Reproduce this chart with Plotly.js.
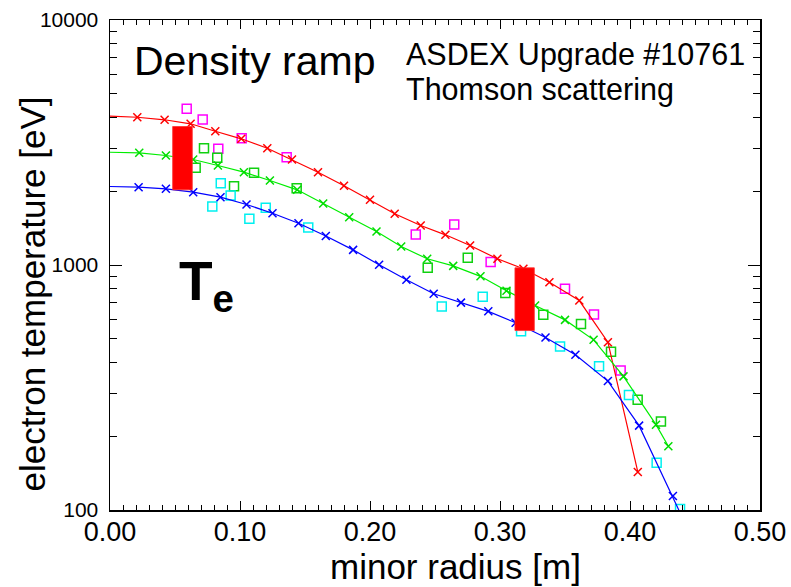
<!DOCTYPE html>
<html>
<head>
<meta charset="utf-8">
<script src="https://cdn.plot.ly/plotly-3.0.1.min.js"></script>
<style>html,body{margin:0;padding:0;background:#fff}#chart{width:791px;height:587px}</style>
</head>
<body>
<div id="chart"></div>
<script>
// ---- Fitted profiles (line with x markers) ----
const redX   = [0.021,0.042,0.062,0.081,0.101,0.121,0.140,0.160,0.180,0.200,0.219,0.239,0.258,0.277,0.298,0.318,0.338,0.361,0.383,0.406];
const redY   = [4010,3915,3770,3516,3274,2998,2695,2392,2105,1846,1618,1449,1328,1201,1060,965,851,716,484,143];
const greenX = [0.0225,0.043,0.064,0.083,0.103,0.123,0.144,0.164,0.184,0.205,0.224,0.244,0.264,0.285,0.305,0.327,0.350,0.372,0.395,0.420,0.4295];
const greenY = [2870,2798,2695,2547,2392,2213,2027,1782,1567,1370,1190,1060,992,899,785,683,597,495,351,223,182];
const blueX  = [0.022,0.043,0.064,0.085,0.105,0.125,0.145,0.166,0.187,0.207,0.228,0.249,0.270,0.291,0.312,0.335,0.358,0.383,0.407,0.433];
const blueY  = [2078,2046,1982,1891,1766,1627,1481,1313,1153,1002,870,763,702,647,581,506,430,336,221,114];
// values of the fit curves at the axis (r = 0) and blue tail below the axis
const redAxisY = 4050, greenAxisY = 2886, blueAxisY = 2091;
const blueTailX = 0.4387, blueTailY = 97;

// ---- Thomson raw data (open squares) ----
const magX   = [0.059,0.0713,0.0833,0.1013,0.1359,0.2352,0.2648,0.2928,0.350,0.3723,0.3928];
const magY   = [4341,3925,2981,3293,2754,1332,1463,1028,800,628,371];
const gSqX   = [0.0659,0.0723,0.0825,0.0954,0.1108,0.1436,0.2444,0.2752,0.3041,0.3333,0.3623,0.3854,0.4059,0.4238];
const gSqY   = [2493,2998,2739,2097,2378,2058,974,1070,769,626,575,442,282,230];
const cyanX  = [0.0787,0.0852,0.0928,0.1072,0.1198,0.1525,0.2552,0.2867,0.3162,0.3462,0.3762,0.3992,0.4205,0.4385];
const cyanY  = [1733,2157,1921,1544,1712,1423,677,742,537,465,386,295,156,101];

// ---- Red range bars ----
const barX0 = [0.0482, 0.3115];
const barX1 = [0.0633, 0.3264];
const barLow  = [2027, 540];
const barHigh = [3675, 974];

// ---- Tick labels and texts ----
const xTickVals = [0, 0.1, 0.2, 0.3, 0.4, 0.5];
const xTickText = ['0.00','0.10','0.20','0.30','0.40','0.50'];
const yTickVals = [100, 1000, 10000];
const yTickText = ['100','1000','10000'];
const xTitle = 'minor radius [m]';
const yTitle = 'electron temperature [eV]';

const FONT = 'Liberation Sans, Arial, Helvetica, sans-serif';

function fitLine(x0, y0, xs, ys, color, tail) {
  const lx = [0].concat(xs), ly = [y0].concat(ys);
  if (tail) { lx.push(tail[0]); ly.push(tail[1]); }
  return {x: lx, y: ly, type: 'scatter', mode: 'lines', line: {color: color, width: 1.2}, hoverinfo: 'skip', cliponaxis: true};
}
function xMarks(xs, ys, color) {
  return {x: xs, y: ys, type: 'scatter', mode: 'markers', cliponaxis: true,
    marker: {symbol: 'x-thin-open', size: 8, line: {color: color, width: 1.5}, color: color}};
}
function squares(xs, ys, color) {
  return {x: xs, y: ys, type: 'scatter', mode: 'markers', cliponaxis: true,
    marker: {symbol: 'square-open', size: 9, line: {color: color, width: 1.5}, color: color}};
}

const traces = [
  squares(magX, magY, '#ff00ff'),
  squares(gSqX, gSqY, '#10d010'),
  squares(cyanX, cyanY, '#00f0f0'),
  fitLine(0, redAxisY, redX, redY, '#ff0000'),
  fitLine(0, greenAxisY, greenX, greenY, '#00ee00'),
  fitLine(0, blueAxisY, blueX, blueY, '#0000ff', [blueTailX, blueTailY]),
  xMarks(redX, redY, '#ff0000'),
  xMarks(greenX, greenY, '#00dd00'),
  xMarks(blueX, blueY, '#0000ff')
];
for (let i = 0; i < barX0.length; i++) {
  traces.push({
    x: [barX0[i], barX1[i], barX1[i], barX0[i], barX0[i]],
    y: [barLow[i], barLow[i], barHigh[i], barHigh[i], barLow[i]],
    type: 'scatter', mode: 'lines', fill: 'toself', fillcolor: '#ff0000',
    line: {color: '#ff3030', width: 0.8}, hoverinfo: 'skip'
  });
}

const yMinor = [];
[100, 1000].forEach(d => { for (let k = 2; k <= 9; k++) yMinor.push(k * d); });

const layout = {
  width: 791, height: 587,
  margin: {l: 110, r: 31, t: 20, b: 77, pad: 0},
  paper_bgcolor: '#fff', plot_bgcolor: '#fff',
  showlegend: false,
  font: {family: FONT, color: '#000'},
  xaxis: {
    range: [0, 0.5], tickmode: 'array', tickvals: xTickVals, ticktext: xTickText,
    ticks: 'inside', ticklen: 9, tickwidth: 1, tickcolor: '#000',
    showline: true, linecolor: '#000', linewidth: 1.5, mirror: 'allticks',
    showgrid: false, zeroline: false,
    minor: {dtick: 0.01, ticks: 'inside', ticklen: 5, tickwidth: 1, tickcolor: '#000', showgrid: false},
    tickfont: {size: 27, family: FONT}, ticklabelstandoff: -3
  },
  yaxis: {
    type: 'log', range: [2, 4], tickmode: 'array', tickvals: yTickVals, ticktext: yTickText,
    ticks: 'inside', ticklen: 12, tickwidth: 1, tickcolor: '#000',
    showline: true, linecolor: '#000', linewidth: 1.5, mirror: 'allticks',
    showgrid: false, zeroline: false,
    minor: {tickmode: 'array', tickvals: yMinor, ticks: 'inside', ticklen: 7, tickwidth: 1, tickcolor: '#000', showgrid: false},
    tickfont: {size: 21, family: FONT}, ticklabelstandoff: 6
  },
  annotations: [
    {text: xTitle, xref: 'paper', yref: 'paper', x: 0.5308, y: -0.1143, xanchor: 'center', yanchor: 'middle',
     showarrow: false, borderpad: 0, font: {size: 35, family: FONT}},
    {text: yTitle, xref: 'paper', yref: 'paper', x: -0.12, y: 0.44, xanchor: 'center', yanchor: 'middle', textangle: -90,
     showarrow: false, borderpad: 0, font: {size: 35, family: FONT}},
    {text: 'Density ramp', xref: 'paper', yref: 'paper', x: 0.0354, y: 0.916, xanchor: 'left', yanchor: 'middle',
     showarrow: false, borderpad: 0, font: {size: 41, family: FONT}},
    {text: 'ASDEX Upgrade #10761', xref: 'paper', yref: 'paper', x: 0.4538, y: 0.9286, xanchor: 'left', yanchor: 'middle',
     showarrow: false, borderpad: 0, font: {size: 30.5, family: FONT}},
    {text: 'Thomson scattering', xref: 'paper', yref: 'paper', x: 0.4538, y: 0.858, xanchor: 'left', yanchor: 'middle',
     showarrow: false, borderpad: 0, font: {size: 30.5, family: FONT}},
    {text: '<b>T<sub>e</sub></b>', xref: 'paper', yref: 'paper', x: 0.1046, y: 0.46, xanchor: 'left', yanchor: 'middle',
     showarrow: false, borderpad: 0, font: {size: 55, family: FONT}}
  ]
};

Plotly.newPlot('chart', traces, layout, {displayModeBar: false, staticPlot: true});
</script>
</body>
</html>
